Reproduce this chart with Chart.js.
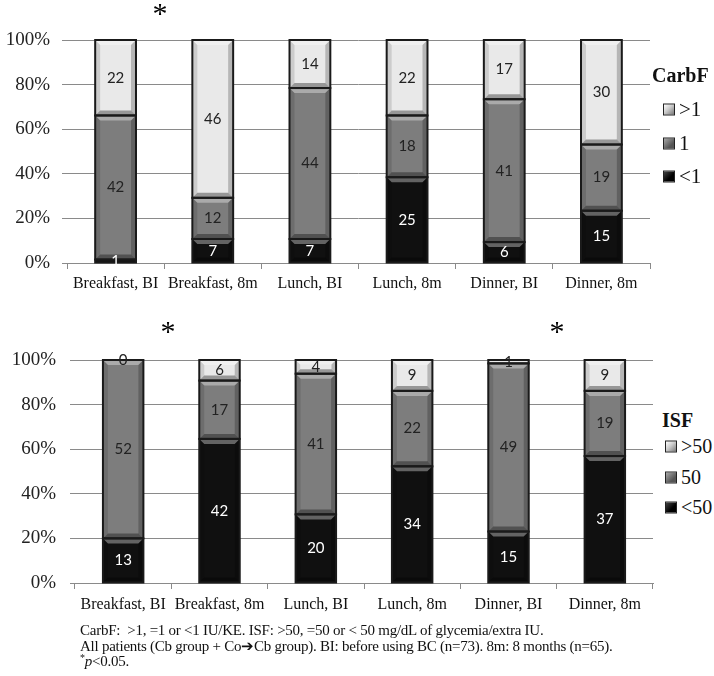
<!DOCTYPE html>
<html>
<head>
<meta charset="utf-8">
<script src="https://cdn.jsdelivr.net/npm/chart.js@4.4.1/dist/chart.umd.min.js"></script>
<style>
  body { margin: 0; background: #fff; width: 714px; height: 676px; position: relative; overflow: hidden; }
  .wrap { position: absolute; left: 0; }
  .txt { position: absolute; font-family: "Liberation Serif", serif; color: #111; white-space: nowrap; }
  .star { position: absolute; font-family: "Liberation Serif", serif; font-size: 30px; line-height: 30px; transform: translate(-50%, -40%); }
  .lgTitle { font-weight: bold; font-size: 20px; line-height: 20px; transform: translateY(-50%); }
  .lgItem { font-size: 21px; line-height: 21px; transform: translateY(-50%); display: flex; align-items: center; }
  .lgItem span.box { display: inline-block; width: 10px; height: 10px; border: 1px solid #222; margin-right: 4px; }
  .note { font-size: 15px; line-height: 15.5px; left: 80px; top: 623px; letter-spacing: -0.25px; }
  .note sup { font-size: 10px; line-height: 0; vertical-align: 5px; }
</style>
</head>
<body>
<div class="wrap" style="top:0"><canvas id="carbChart" width="655" height="305"></canvas></div>
<div class="wrap" style="top:300px"><canvas id="isfChart" width="658" height="325"></canvas></div>

<div class="star" style="left:160px; top:10px">*</div>
<div class="star" style="left:168px; top:328px">*</div>
<div class="star" style="left:557px; top:328px">*</div>

<div id="carbLegend"></div>
<div id="isfLegend"></div>

<div class="txt note">CarbF:&nbsp; &gt;1, =1 or &lt;1 IU/KE. ISF: &gt;50, =50 or &lt; 50 mg/dL of glycemia/extra IU.<br>All patients (Cb group + Co&#10132;Cb group). BI: before using BC (n=73). 8m: 8 months (n=65).<br><sup>*</sup><i>p</i>&lt;0.05.</div>

<script>
const categories = ['Breakfast, BI', 'Breakfast, 8m', 'Lunch, BI', 'Lunch, 8m', 'Dinner, BI', 'Dinner, 8m'];

// CarbF counts per meal
const carbLabels = ['<1', '1', '>1'];
const carbLow = [1, 7, 7, 25, 6, 15];
const carbEq = [42, 12, 44, 18, 41, 19];
const carbHigh = [22, 46, 14, 22, 17, 30];

// ISF counts per meal
const isfLabels = ['<50', '50', '>50'];
const isfLow = [13, 42, 20, 34, 15, 37];
const isfEq = [52, 17, 41, 22, 49, 19];
const isfHigh = [0, 6, 4, 9, 1, 9];

const yTicks = [0, 20, 40, 60, 80, 100];

const fills = ['#101010', '#7d7d7d', '#e9e9e9'];
const labelColors = ['#ffffff', '#222222', '#222222'];
const legendFills = [
  'linear-gradient(135deg, #444 0%, #000 60%)',
  'linear-gradient(135deg, #aaa 0%, #555 70%)',
  'linear-gradient(135deg, #fff 0%, #ccc 45%, #777 100%)'
];

function toPercent(series) {
  const totals = series[0].map((_, i) => series.reduce((s, a) => s + a[i], 0));
  return series.map(a => a.map((v, i) => v / totals[i] * 100));
}

// bevel shading + count labels on each segment
const bevelPlugin = {
  id: 'bevel',
  afterDatasetsDraw(chart) {
    const ctx = chart.ctx;
    chart.data.datasets.forEach((ds, di) => {
      const meta = chart.getDatasetMeta(di);
      meta.data.forEach((bar, i) => {
        const l = bar.x - bar.width / 2, r = bar.x + bar.width / 2;
        const t = Math.min(bar.y, bar.base), b = Math.max(bar.y, bar.base);
        const h = b - t;
        if (h > 3) {
          const d = Math.min(5, h / 3);
          ctx.save();
          // top highlight
          ctx.fillStyle = 'rgba(255,255,255,0.35)';
          ctx.beginPath();
          ctx.moveTo(l, t); ctx.lineTo(r, t); ctx.lineTo(r - d, t + d); ctx.lineTo(l + d, t + d); ctx.closePath(); ctx.fill();
          // bottom shade
          ctx.fillStyle = 'rgba(0,0,0,0.35)';
          ctx.beginPath();
          ctx.moveTo(l, b); ctx.lineTo(r, b); ctx.lineTo(r - d, b - d); ctx.lineTo(l + d, b - d); ctx.closePath(); ctx.fill();
          // sides
          ctx.fillStyle = 'rgba(0,0,0,0.12)';
          ctx.beginPath();
          ctx.moveTo(l, t); ctx.lineTo(l + d, t + d); ctx.lineTo(l + d, b - d); ctx.lineTo(l, b); ctx.closePath(); ctx.fill();
          ctx.fillStyle = 'rgba(0,0,0,0.22)';
          ctx.beginPath();
          ctx.moveTo(r, t); ctx.lineTo(r - d, t + d); ctx.lineTo(r - d, b - d); ctx.lineTo(r, b); ctx.closePath(); ctx.fill();
          ctx.restore();
        }
        ctx.save();
        ctx.strokeStyle = '#1a1a1a';
        ctx.lineWidth = 2;
        ctx.strokeRect(l, t, r - l, h);
        ctx.restore();
      });
    });
    // labels
    chart.data.datasets.forEach((ds, di) => {
      const meta = chart.getDatasetMeta(di);
      meta.data.forEach((bar, i) => {
        ctx.save();
        ctx.fillStyle = labelColors[di];
        ctx.font = '15px Lato';
        ctx.textAlign = 'center';
        ctx.textBaseline = 'middle';
        ctx.fillText(String(ds.counts[i]), bar.x, (bar.y + bar.base) / 2);
        ctx.restore();
      });
    });
  }
};

function makeChart(id, series, names, yWidth, padTop, yPad, xPad) {
  const pct = toPercent(series);
  const canvas = document.getElementById(id);
  return new Chart(canvas, {
    type: 'bar',
    data: {
      labels: categories,
      datasets: pct.map((d, k) => ({
        label: names[k],
        data: d,
        counts: series[k],
        backgroundColor: fills[k],
        borderWidth: 0,
        barPercentage: 0.42,
        categoryPercentage: 1
      }))
    },
    options: {
      responsive: false,
      animation: false,
      layout: { padding: { top: padTop, right: 5, left: 0, bottom: 0 } },
      plugins: { legend: { display: false }, tooltip: { enabled: false } },
      scales: {
        x: {
          stacked: true,
          afterFit: s => { s.height = 42; },
          grid: { display: true, drawOnChartArea: false, offset: true, tickLength: 6, color: '#8a8a8a' },
          border: { color: '#8a8a8a', width: 1 },
          ticks: { color: '#111', padding: xPad, maxRotation: 0, font: { family: 'Liberation Serif', size: 16 } }
        },
        y: {
          stacked: true,
          min: 0,
          max: 100,
          afterFit: s => { s.width = yWidth; },
          afterBuildTicks: s => { s.ticks = yTicks.map(v => ({ value: v })); },
          grid: { color: '#8a8a8a', tickLength: 5 },
          border: { display: false },
          ticks: { color: '#222', padding: yPad, callback: v => v + '%', font: { family: 'Liberation Serif', size: 19 } }
        }
      }
    },
    plugins: [bevelPlugin]
  });
}

makeChart('carbChart', [carbLow, carbEq, carbHigh], carbLabels, 67, 40, 12, 5);
makeChart('isfChart', [isfLow, isfEq, isfHigh], isfLabels, 75, 60, 14, 6);

function makeLegend(id, title, names, x, titleY, boxX, itemYs, size) {
  const el = document.getElementById(id);
  let html = '<div class="txt lgTitle" style="left:' + x + 'px; top:' + titleY + 'px">' + title + '</div>';
  for (let k = names.length - 1, j = 0; k >= 0; k--, j++) {
    html += '<div class="txt lgItem" style="left:' + boxX + 'px; top:' + itemYs[j] + 'px; font-size:' + size + 'px">' +
      '<span class="box" style="background:' + legendFills[k] + '"></span>' +
      names[k].replace('<', '&lt;').replace('>', '&gt;') + '</div>';
  }
  el.innerHTML = html;
}

makeLegend('carbLegend', 'CarbF', carbLabels, 652, 75, 663, [109, 143, 176], 21);
makeLegend('isfLegend', 'ISF', isfLabels, 662, 420, 665, [446, 477, 507], 20);
</script>
</body>
</html>
